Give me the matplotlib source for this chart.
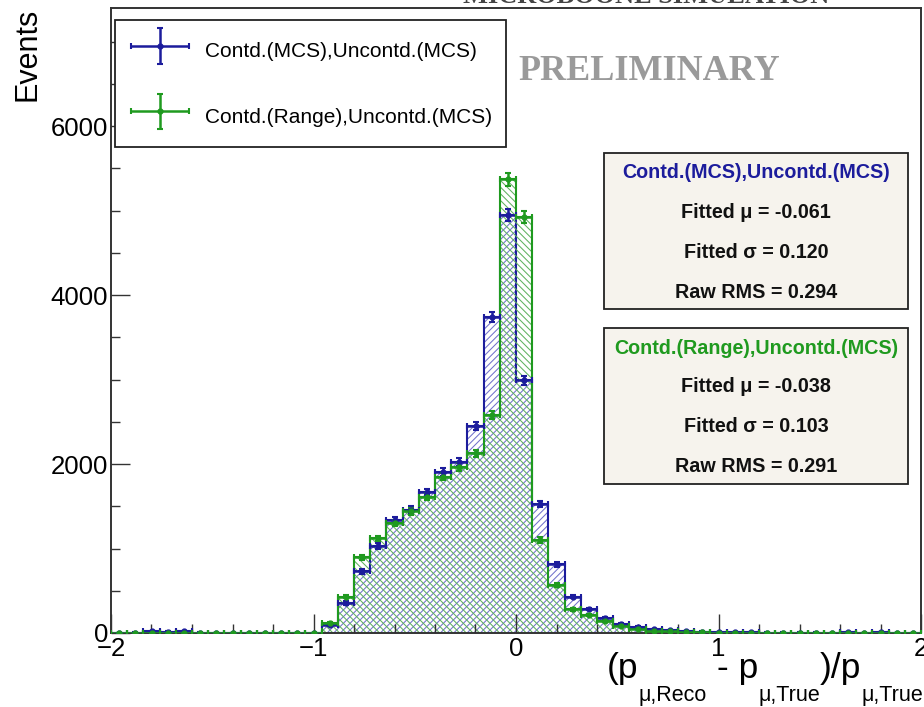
import numpy as np
import matplotlib
matplotlib.use("Agg")
import matplotlib.pyplot as plt
from matplotlib.container import ErrorbarContainer
from matplotlib.legend_handler import HandlerErrorbar
from matplotlib.ticker import MultipleLocator

plt.rcParams["font.family"] = ["Liberation Sans", "DejaVu Sans"]
plt.rcParams["hatch.linewidth"] = 0.75

# ── Histogram contents: (p_reco - p_true)/p_true, 50 bins on [-2, 2] ──────────
bin_edges = np.linspace(-2.0, 2.0, 51)

mcs_counts = [0, 5, 20, 15, 20, 5, 0, 0, 0, 0, 0, 0, 0,
              95, 355, 730, 1030, 1340, 1460, 1670, 1905, 2025, 2450, 3745,
              4950, 2990, 1525, 815, 430, 285, 178, 112, 70, 42, 30, 20, 15,
              10, 8, 6, 5, 5, 4, 5, 3, 10, 3, 12, 3, 2]
range_counts = [0, 0, 0, 0, 0, 0, 0, 0, 0, 0, 0, 0, 0,
                120, 430, 896, 1120, 1298, 1440, 1613, 1850, 1968, 2126, 2580,
                5370, 4930, 1100, 568, 282, 210, 140, 87, 53, 27, 18, 12, 8,
                5, 4, 3, 3, 2, 2, 2, 2, 2, 2, 1, 1, 1]

series_labels = ["Contd.(MCS),Uncontd.(MCS)", "Contd.(Range),Uncontd.(MCS)"]
fit_mu = [-0.061, -0.038]
fit_sigma = [0.120, 0.103]
raw_rms = [0.294, 0.291]

line_colors = ["#1c1c9c", "#1f9a1f"]
hatch_colors = ["#7272cc", "#5fb25f"]
hatches = ["/////", "\\\\\\\\\\"]

# ── Figure / frame ────────────────────────────────────────────────────────────
fig = plt.figure(figsize=(9.24, 7.07), dpi=100)
ax = fig.add_axes([111 / 924, 1 - 633 / 707, 810 / 924, 625 / 707])

centers = 0.5 * (bin_edges[:-1] + bin_edges[1:])
half_width = 0.5 * np.diff(bin_edges)

handles = []
for counts, lc, hc, hatch, label in zip([mcs_counts, range_counts], line_colors,
                                        hatch_colors, hatches, series_labels):
    counts = np.asarray(counts, dtype=float)
    # hatched fill, then the step outline on top
    ax.stairs(counts, bin_edges, fill=True, facecolor="none", edgecolor=hc,
              hatch=hatch, linewidth=0)
    ax.stairs(counts, bin_edges, color=lc, linewidth=1.5, baseline=0)
    eb = ax.errorbar(centers, counts, xerr=half_width, yerr=np.sqrt(counts),
                     fmt="o", color=lc, markersize=3.5, elinewidth=1.8,
                     capsize=2.2, capthick=1.5, label=label, zorder=4)
    handles.append(eb)

ax.set_xlim(-2, 2)
ax.set_ylim(0, 7400)

ax.xaxis.set_major_locator(MultipleLocator(1))
ax.xaxis.set_minor_locator(MultipleLocator(0.2))
ax.yaxis.set_major_locator(MultipleLocator(2000))
ax.yaxis.set_minor_locator(MultipleLocator(500))
ax.tick_params(which="both", direction="in", top=False, right=False,
               labelsize=18.5, color="#333333")
ax.tick_params(which="major", length=14, width=1.0)
ax.tick_params(which="minor", length=6.5, width=1.0)
ax.tick_params(axis="x", pad=3)
ax.tick_params(axis="y", pad=2)
ax.set_xticks([-2, -1, 0, 1, 2])
ax.set_xticklabels(["\u22122", "\u22121", "0", "1", "2"])
for sp in ax.spines.values():
    sp.set_linewidth(1.4)
    sp.set_color("#333333")

# ── Legend ────────────────────────────────────────────────────────────────────
leg = ax.legend(handles=handles, loc="upper left",
                bbox_to_anchor=(0.0049, 0.9808), borderaxespad=0,
                fontsize=15, handlelength=2.9, handleheight=2.0,
                handletextpad=0.7, labelspacing=1.6, borderpad=0.7,
                fancybox=False, edgecolor="#222222", framealpha=1,
                handler_map={ErrorbarContainer: HandlerErrorbar(xerr_size=1.4, yerr_size=0.85)})
leg.get_frame().set_linewidth(1.3)

# ── Watermark and fit summary boxes ───────────────────────────────────────────
ax.text(0.665, 0.8976, "PRELIMINARY", transform=ax.transAxes, ha="center",
        va="center", fontsize=26, fontweight="bold", color="#9a9a9a",
        family=["Liberation Serif", "DejaVu Serif"])

box_tops = [0.768, 0.488]
box_h = 0.25
line_offsets = [0.032, 0.0944, 0.1584, 0.2224]
for i in range(2):
    top = box_tops[i]
    ax.add_patch(plt.Rectangle((0.6086, top - box_h), 0.3754, box_h,
                               transform=ax.transAxes, facecolor="#f6f3ed",
                               edgecolor="#222222", linewidth=1.3, zorder=5))
    lines = [series_labels[i],
             f"Fitted \u03bc = {fit_mu[i]:.3f}",
             f"Fitted \u03c3 = {fit_sigma[i]:.3f}",
             f"Raw RMS = {raw_rms[i]:.3f}"]
    colors = [line_colors[i], "#111111", "#111111", "#111111"]
    for s, c, off in zip(lines, colors, line_offsets):
        ax.text(0.7963, top - off, s, transform=ax.transAxes, ha="center",
                va="center", fontsize=14.2, fontweight="bold", color=c,
                zorder=6)

# ── Axis titles ───────────────────────────────────────────────────────────────
fig.text(28 / 924, 1 - 8 / 707, "Events", rotation=90, ha="center", va="top",
         fontsize=22)

fig.text(646 / 924, 1 - 3 / 707, "MICROBOONE SIMULATION", ha="center",
         va="baseline", fontsize=19, fontweight="bold", color="#444444",
         family=["Liberation Serif", "DejaVu Serif"])

label_parts = [("(p", 25.5, False), ("\u03bc,Reco", 15.5, True),
               (" - p", 25.5, False), ("\u03bc,True", 15.5, True),
               (")/p", 25.5, False), ("\u03bc,True", 15.5, True)]
part_texts = [fig.text(0, 0, s, fontsize=size, ha="left", va="baseline")
              for s, size, _ in label_parts]
fig.canvas.draw()
renderer = fig.canvas.get_renderer()
widths = [t.get_window_extent(renderer).width for t in part_texts]
x_px = 923 - sum(widths)
for t, w, (_, _, low) in zip(part_texts, widths, label_parts):
    y_px = 707 - (701 if low else 678)
    t.set_position((x_px / 924, y_px / 707))
    x_px += w

fig.savefig("out.png", dpi=100)
